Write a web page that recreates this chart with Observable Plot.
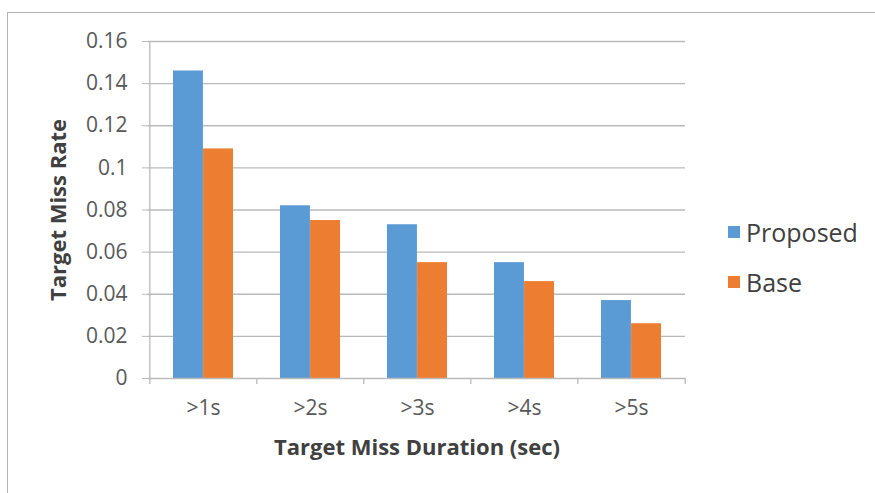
<!DOCTYPE html>
<html>
<head>
<meta charset="utf-8">
<script src="https://cdn.jsdelivr.net/npm/d3@7"></script>
<script src="https://cdn.jsdelivr.net/npm/@observablehq/plot@0.6"></script>
<style>
  html, body { margin: 0; padding: 0; background: #fff; }
  #wrap { position: relative; width: 875px; height: 493px; overflow: hidden; font-family: "Open Sans", sans-serif; }
  #border { position: absolute; left: 7px; top: 12px; width: 1000px; height: 1000px; border: 1.5px solid #b4b4b4; box-sizing: border-box; }
  #chart { position: absolute; left: 0; top: 0; }
  #legend { position: absolute; left: 728px; top: 213px; font-size: 25px; color: #404040; line-height: 1; }
  #legend .item { display: flex; align-items: center; height: 38px; margin-bottom: 12px; }
  #legend .sw { width: 12px; height: 12px; margin-right: 6px; }
</style>
</head>
<body>
<div id="wrap">
  <div id="border"></div>
  <div id="chart"></div>
  <div id="legend"></div>
</div>
<script>
const categories = [">1s", ">2s", ">3s", ">4s", ">5s"];
const seriesNames = ["Proposed", "Base"];
const proposed = [0.146, 0.082, 0.073, 0.055, 0.037];
const base = [0.109, 0.075, 0.055, 0.046, 0.026];
const yTicks = [0, 0.02, 0.04, 0.06, 0.08, 0.1, 0.12, 0.14, 0.16];
const colors = ["#5B9BD5", "#ED7D31"];

const propData = categories.map((c, i) => ({cat: c, value: proposed[i]}));
const baseData = categories.map((c, i) => ({cat: c, value: base[i]}));

const W = 875, H = 493;
const mL = 148, mR = 190, mT = 41, mB = 115;
const step = (W - mL - mR) / categories.length;
const half = step * (1 - 0.44) / 2;
const gridColor = "#bababa";

const plot = Plot.plot({
  width: W,
  height: H,
  marginLeft: mL,
  marginRight: mR,
  marginTop: mT,
  marginBottom: mB,
  style: {fontFamily: "Open Sans, sans-serif", background: "transparent"},
  x: {domain: categories, paddingInner: 0.44, paddingOuter: 0.22},
  y: {domain: [0, 0.16]},
  marks: [
    Plot.ruleY(yTicks.filter(d => d > 0), {stroke: gridColor, strokeWidth: 1.3}),
    Plot.barY(propData, {x: "cat", y: "value", fill: colors[0], insetRight: half}),
    Plot.barY(baseData, {x: "cat", y: "value", fill: colors[1], insetLeft: half}),
    Plot.ruleY([0], {stroke: gridColor, strokeWidth: 1.3}),
    Plot.ruleX([categories[0]], {x: d => d, dx: -step / 2, y1: 0, y2: 0.16, stroke: gridColor, strokeWidth: 1.3}),
    Plot.ruleX(categories, {x: d => d, dx: -step / 2, y1: 0, y2: 0, insetBottom: -6, stroke: gridColor, strokeWidth: 1.3}),
    Plot.ruleX([categories[categories.length - 1]], {x: d => d, dx: step / 2, y1: 0, y2: 0, insetBottom: -6, stroke: gridColor, strokeWidth: 1.3}),
    Plot.axisY({
      ticks: yTicks,
      tickFormat: d3.format("~g"),
      tickSize: 6,
      stroke: gridColor,
      tickPadding: 15,
      fontSize: 21,
      fill: "#595959",
      label: null
    }),
    Plot.axisX({
      tickSize: 0,
      tickPadding: 22,
      fontSize: 21,
      fill: "#595959",
      label: null
    }),
    Plot.text(["Target Miss Duration (sec)"], {
      frameAnchor: "bottom", dy: 76, fontSize: 22, fontWeight: "bold", fill: "#404040", text: d => d
    }),
    Plot.text(["Target Miss Rate"], {
      frameAnchor: "left", dx: -90, rotate: -90, textAnchor: "middle", fontSize: 22, fontWeight: "bold", fill: "#404040", text: d => d
    })
  ]
});
document.getElementById("chart").appendChild(plot);

const legend = document.getElementById("legend");
seriesNames.forEach((name, i) => {
  const item = document.createElement("div");
  item.className = "item";
  const sw = document.createElement("span");
  sw.className = "sw";
  sw.style.background = colors[i];
  const label = document.createElement("span");
  label.textContent = name;
  item.appendChild(sw);
  item.appendChild(label);
  legend.appendChild(item);
});
</script>
</body>
</html>
